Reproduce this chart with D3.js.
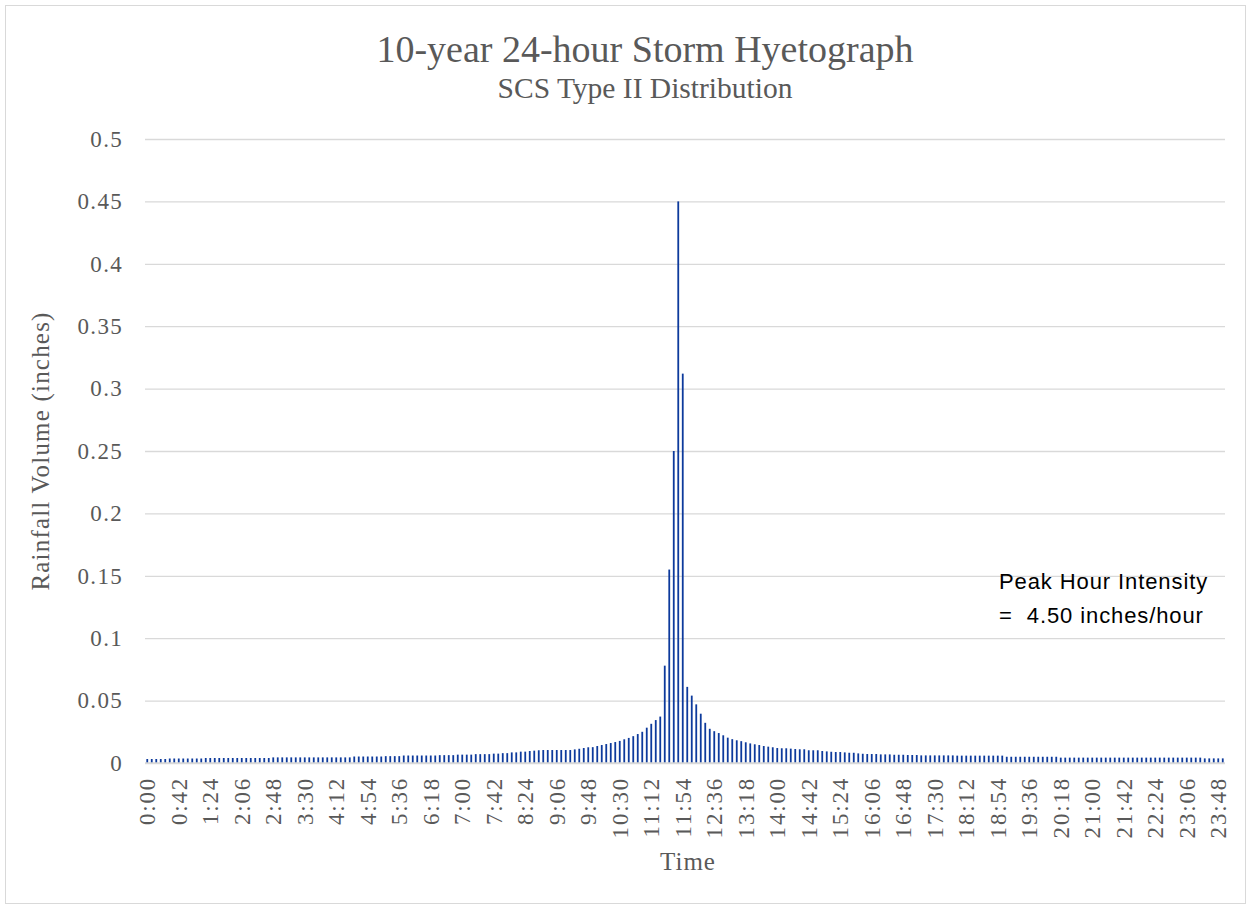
<!DOCTYPE html>
<html><head><meta charset="utf-8">
<script src="https://cdn.jsdelivr.net/npm/d3@7"></script>
<style>body{margin:0;background:#fff}svg{display:block}</style>
</head><body>
<svg id="chart" width="1251" height="909"></svg>
<script>
const rainfall = [
0.0032,0.0032,0.0032,0.0032,0.0032,0.0036,0.0036,0.0036,0.0036,0.0036,
0.0036,0.0036,0.0036,0.0040,0.0040,0.0040,0.0040,0.0040,0.0040,0.0040,
0.0040,0.0040,0.0040,0.0040,0.0040,0.0040,0.0040,0.0040,0.0045,0.0045,
0.0045,0.0045,0.0045,0.0045,0.0045,0.0045,0.0045,0.0045,0.0045,0.0045,
0.0045,0.0045,0.0045,0.0045,0.0045,0.0045,0.0052,0.0052,0.0052,0.0052,
0.0052,0.0052,0.0052,0.0055,0.0055,0.0055,0.0055,0.0060,0.0060,0.0060,
0.0060,0.0060,0.0060,0.0060,0.0060,0.0063,0.0063,0.0063,0.0063,0.0067,
0.0067,0.0067,0.0067,0.0071,0.0071,0.0071,0.0071,0.0075,0.0075,0.0079,
0.0079,0.0085,0.0085,0.0091,0.0091,0.0096,0.0099,0.0102,0.0104,0.0104,
0.0104,0.0104,0.0104,0.0104,0.0104,0.0109,0.0114,0.0120,0.0126,0.0127,
0.0136,0.0144,0.0152,0.0160,0.0168,0.0177,0.0190,0.0201,0.0215,0.0232,
0.0250,0.0283,0.0314,0.0344,0.0372,0.0780,0.1550,0.2500,0.4500,0.3120,
0.0610,0.0540,0.0470,0.0395,0.0322,0.0274,0.0255,0.0240,0.0222,0.0203,
0.0191,0.0182,0.0175,0.0166,0.0157,0.0150,0.0144,0.0136,0.0131,0.0126,
0.0120,0.0118,0.0118,0.0115,0.0112,0.0110,0.0110,0.0102,0.0102,0.0102,
0.0096,0.0093,0.0090,0.0088,0.0088,0.0085,0.0082,0.0082,0.0077,0.0074,
0.0072,0.0072,0.0072,0.0069,0.0069,0.0069,0.0066,0.0066,0.0066,0.0064,
0.0064,0.0064,0.0061,0.0061,0.0061,0.0061,0.0061,0.0061,0.0061,0.0061,
0.0059,0.0059,0.0059,0.0059,0.0059,0.0059,0.0059,0.0059,0.0059,0.0059,
0.0059,0.0050,0.0050,0.0050,0.0050,0.0050,0.0050,0.0050,0.0050,0.0050,
0.0050,0.0050,0.0050,0.0043,0.0043,0.0043,0.0043,0.0043,0.0043,0.0043,
0.0043,0.0043,0.0043,0.0043,0.0043,0.0043,0.0043,0.0043,0.0043,0.0043,
0.0043,0.0043,0.0043,0.0043,0.0043,0.0043,0.0043,0.0043,0.0043,0.0043,
0.0043,0.0043,0.0043,0.0043,0.0043,0.0037,0.0037,0.0037,0.0037,0.0037
];
// categories: 6-minute time steps over 24 hours
const categories = rainfall.map((d, i) => {
  const m = i * 6;
  return Math.floor(m / 60) + ":" + String(m % 60).padStart(2, "0");
});
const xTickLabels = ["0:00","0:42","1:24","2:06","2:48","3:30","4:12","4:54","5:36","6:18",
  "7:00","7:42","8:24","9:06","9:48","10:30","11:12","11:54","12:36","13:18","14:00",
  "14:42","15:24","16:06","16:48","17:30","18:12","18:54","19:36","20:18","21:00",
  "21:42","22:24","23:06","23:48"];
const yTicks = [0, 0.05, 0.1, 0.15, 0.2, 0.25, 0.3, 0.35, 0.4, 0.45, 0.5];
const yTickLabels = ["0","0.05","0.1","0.15","0.2","0.25","0.3","0.35","0.4","0.45","0.5"];

(function () {
const svg = d3.select("#chart");
const serif = "'Liberation Serif', 'DejaVu Serif', serif";
const textColor = "#595959";

// outer border
svg.append("rect").attr("x", 5.5).attr("y", 5.5).attr("width", 1240).attr("height", 898)
  .attr("fill", "#fff").attr("stroke", "#d9d9d9").attr("stroke-width", 1);

const pl = 145, pr = 1225, pt = 139, pb = 763;
const x = d3.scaleBand().domain(categories).range([pl, pr]).paddingInner(0.6).paddingOuter(0.3);
const y = d3.scaleLinear().domain([0, 0.5]).range([pb, pt]);

// gridlines
const yAxis = d3.axisLeft(y).tickValues(yTicks).tickFormat((d, i) => yTickLabels[i])
  .tickSize(-(pr - pl)).tickPadding(22);
const gy = svg.append("g").attr("transform", `translate(${pl},0)`).call(yAxis);
gy.select(".domain").remove();
gy.selectAll(".tick line").attr("stroke", "#d9d9d9").attr("stroke-width", 1.3);
gy.selectAll(".tick text").attr("font-family", serif).attr("font-size", 23)
  .attr("letter-spacing", 1.3).attr("fill", textColor);

// bars
svg.append("g").selectAll("rect").data(rainfall).join("rect")
  .attr("x", (d, i) => x(categories[i]))
  .attr("y", d => y(d))
  .attr("width", x.bandwidth())
  .attr("height", d => y(0) - y(d))
  .attr("fill", "#0d3a9c");

// x axis
const xAxis = d3.axisBottom(x).tickValues(xTickLabels).tickSize(0).tickPadding(0);
const gx = svg.append("g").attr("transform", `translate(0,${pb})`).call(xAxis);
gx.select(".domain").attr("stroke", "#d9d9d9").attr("stroke-width", 1.6)
  .attr("d", `M${pl},0H${pr}`);
gx.selectAll(".tick text")
  .attr("font-family", serif).attr("font-size", 23).attr("letter-spacing", 1.8)
  .attr("fill", textColor)
  .attr("transform", "rotate(-90)")
  .attr("text-anchor", "end")
  .attr("x", -14).attr("y", 0).attr("dy", "0.35em");

// titles
svg.append("text").attr("x", 645).attr("y", 62).attr("text-anchor", "middle")
  .attr("font-family", serif).attr("font-size", 38).attr("fill", textColor)
  .text("10-year 24-hour Storm Hyetograph");
svg.append("text").attr("x", 645).attr("y", 98).attr("text-anchor", "middle")
  .attr("font-family", serif).attr("font-size", 29.5).attr("fill", textColor)
  .text("SCS Type II Distribution");

svg.append("text").attr("transform", `translate(40,451) rotate(-90)`)
  .attr("text-anchor", "middle").attr("dy", "0.35em")
  .attr("font-family", serif).attr("font-size", 25).attr("letter-spacing", 1.2)
  .attr("fill", textColor)
  .text("Rainfall Volume (inches)");
svg.append("text").attr("x", 688).attr("y", 870).attr("text-anchor", "middle")
  .attr("font-family", serif).attr("font-size", 25).attr("letter-spacing", 1)
  .attr("fill", textColor)
  .text("Time");

// annotation
const sans = "'Liberation Sans', Arial, sans-serif";
svg.append("text").attr("x", 999).attr("y", 589)
  .attr("font-family", sans).attr("font-size", 22).attr("letter-spacing", 0.9)
  .attr("fill", "#000")
  .text("Peak Hour Intensity");
svg.append("text").attr("x", 999).attr("y", 623)
  .attr("font-family", sans).attr("font-size", 22).attr("letter-spacing", 0.9)
  .attr("fill", "#000")
  .style("white-space", "pre")
  .text("=  4.50 inches/hour");
})();
</script>
</body></html>
